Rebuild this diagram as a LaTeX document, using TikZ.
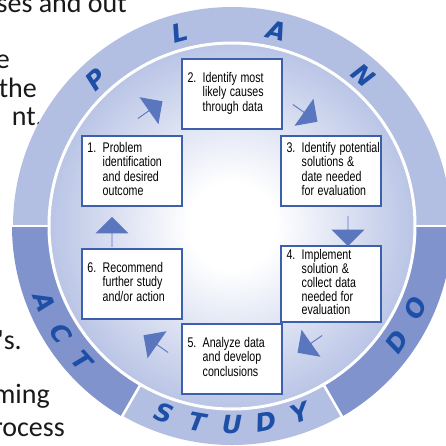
\documentclass[tikz,border=0pt]{standalone}
\usepackage{graphicx}
\usepackage{fontspec}
\setmainfont{Liberation Sans}
\newfontfamily\boxfont{Liberation Sans}
\newfontfamily\ringfont{DejaVu Sans}
\newfontfamily\pagefont{Carlito}
\usetikzlibrary{shapes.arrows}
\definecolor{ringlight}{HTML}{B3BFE2}
\definecolor{ringdark}{HTML}{8093CC}
\definecolor{discblue}{HTML}{BAC5E6}
\definecolor{lettblue}{HTML}{1E4FA6}
\definecolor{arrowblue}{HTML}{5A76BF}
\definecolor{boxblue}{HTML}{3C60AD}
\pgfdeclareradialshading{discshade}{\pgfpoint{0bp}{0bp}}{color(0bp)=(white); color(6bp)=(white); color(25bp)=(discblue); color(50bp)=(discblue)}
\newcommand{\stepnum}[2]{\noindent\scalebox{0.76}[1]{\makebox[20pt][l]{#1}\begin{tabular}[t]{@{}l@{}}#2\end{tabular}}}
\tikzstyle{stepbox}=[draw=boxblue,line width=1.8pt,fill=white,minimum width=100pt,minimum height=70pt,text width=89pt,inner xsep=5.5pt,align=left,font=\boxfont\fontsize{14}{14.5}\selectfont,text=black]
\tikzstyle{turn}=[shape=single arrow,fill=arrowblue,inner sep=0pt,minimum width=33pt,minimum height=30pt,single arrow head extend=7pt]
\tikzstyle{letter}=[font=\ringfont\bfseries\itshape\fontsize{25}{25}\selectfont,text=lettblue,inner sep=0pt]
\tikzstyle{margintext}=[font=\pagefont\fontsize{28}{28}\selectfont,anchor=base east,inner sep=0pt,text=black!90]

\begin{document}
\begin{tikzpicture}[x=1pt,y=1pt]
                  \useasboundingbox (-232,-219) rectangle (214,226);
                  \clip (-232,-219) rectangle (214,226);

                  \node (m1) at (-105,214) [margintext] {esses and out};
                  \node (m2) at (-222,158) [margintext] {e};
                  \node (m3) at (-195,129) [margintext] {the};
                  \node (m4) at (-189,101) [margintext] {nt.};
                  \node (m5) at (-210,-123) [margintext] {0's.};
                  \node (m6) at (-182,-177) [margintext] {ming};
                  \node (m7) at (-167,-210) [margintext] {Process};

                  \fill [ringlight] (0,0) circle (219);
                  \fill [ringdark] (180:183) arc (180:240:183) -- (240:220) arc (240:180:220) -- cycle;
                  \fill [ringdark] (300:183) arc (300:360:183) -- (360:220) arc (360:300:220) -- cycle;
                  \shade [shading=discshade] (0,0) circle (182);
                  \draw [white,line width=3pt] (0,0) circle (183);
                  \foreach \a in {0,180,240,300}
                    \draw [white,line width=2.5pt] (\a:183) -- (\a:221);

                  \node (plan1) at (133:200) [letter,rotate=43] {P};
                  \node (plan2) at (105:200) [letter,rotate=15] {L};
                  \node (plan3) at (77:200) [letter,rotate=-13] {A};
                  \node (plan4) at (49:200) [letter,rotate=-41] {N};

                  \node (act1) at (202:202) [letter,rotate=-68] {A};
                  \node (act2) at (212:202) [letter,rotate=-58] {C};
                  \node (act3) at (222:202) [letter,rotate=-48] {T};

                  \node (study1) at (250:199) [letter,rotate=-20] {S};
                  \node (study2) at (260:199) [letter,rotate=-10] {T};
                  \node (study3) at (270:199) [letter] {U};
                  \node (study4) at (280:199) [letter,rotate=10] {D};
                  \node (study5) at (290:199) [letter,rotate=20] {Y};

                  \node (do1) at (325:201) [letter,rotate=55] {D};
                  \node (do2) at (336:201) [letter,rotate=66] {O};

                  \node (s1) at (-100,55) [stepbox] {\stepnum{1.}{Problem\\identification\\and desired\\outcome}};
                  \node (s2) at (0,132) [stepbox] {\stepnum{2.}{Identify most\\likely causes\\through data}};
                  \node (s3) at (99,55) [stepbox] {\stepnum{3.}{Identify potential\\solutions \&\\date needed\\for evaluation}};
                  \node (s4) at (99,-58) [stepbox,font=\boxfont\fontsize{14}{12.5}\selectfont] {\stepnum{4.}{Implement\\solution \&\\collect data\\needed for\\evaluation}};
                  \node (s5) at (0,-133) [stepbox] {\stepnum{5.}{Analyze data\\and develop\\conclusions}};
                  \node (s6) at (-100,-58) [stepbox] {\stepnum{6.}{Recommend\\further study\\and/or action}};

                  \node (t12) at (-82,116) [turn,rotate=35] {};
                  \node (t23) at (73,113) [turn,rotate=-35] {};
                  \node (t34) at (116,-5) [turn,rotate=-90] {};
                  \node (t45) at (78,-118) [turn,rotate=-145] {};
                  \node (t56) at (-76,-118) [turn,rotate=145] {};
                  \node (t61) at (-120,-6) [turn,rotate=90] {};
\end{tikzpicture}
\end{document}
